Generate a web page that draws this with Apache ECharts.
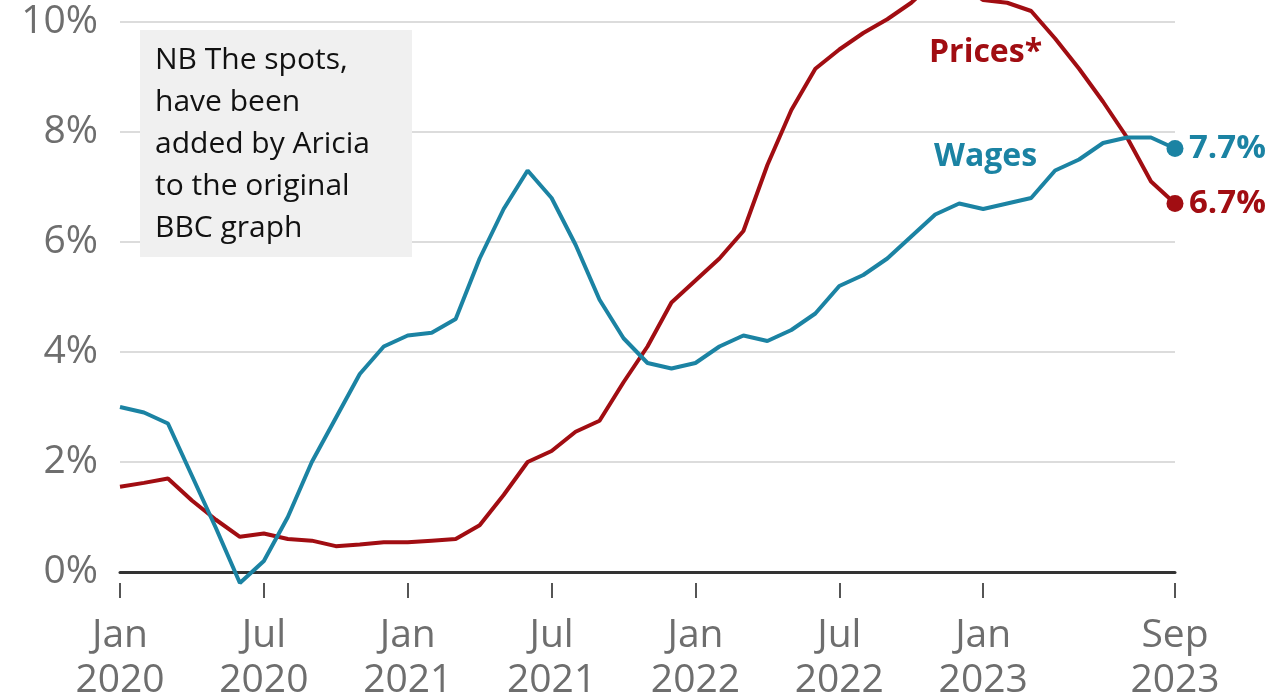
<!DOCTYPE html>
<html>
<head>
<meta charset="utf-8">
<script src="https://cdn.jsdelivr.net/npm/echarts@6/dist/echarts.min.js"></script>
<style>
  html, body { margin: 0; padding: 0; background: #fff; }
  #chart { width: 1275px; height: 700px; }
</style>
</head>
<body>
<div id="chart"></div>
<script>
// months, Jan 2020 .. Sep 2023
var months = [
  'Jan 2020', 'Feb 2020', 'Mar 2020', 'Apr 2020', 'May 2020', 'Jun 2020',
  'Jul 2020', 'Aug 2020', 'Sep 2020', 'Oct 2020', 'Nov 2020', 'Dec 2020',
  'Jan 2021', 'Feb 2021', 'Mar 2021', 'Apr 2021', 'May 2021', 'Jun 2021',
  'Jul 2021', 'Aug 2021', 'Sep 2021', 'Oct 2021', 'Nov 2021', 'Dec 2021',
  'Jan 2022', 'Feb 2022', 'Mar 2022', 'Apr 2022', 'May 2022', 'Jun 2022',
  'Jul 2022', 'Aug 2022', 'Sep 2022', 'Oct 2022', 'Nov 2022', 'Dec 2022',
  'Jan 2023', 'Feb 2023', 'Mar 2023', 'Apr 2023', 'May 2023', 'Jun 2023',
  'Jul 2023', 'Aug 2023', 'Sep 2023'
];
// months that get a tick and a label
var tickMonths = ['Jan 2020', 'Jul 2020', 'Jan 2021', 'Jul 2021', 'Jan 2022', 'Jul 2022', 'Jan 2023', 'Sep 2023'];

var wages = [
  3.0, 2.9, 2.7, 1.75, 0.8, -0.2,
  0.2, 1.0, 2.0, 2.8, 3.6, 4.1,
  4.3, 4.35, 4.6, 5.7, 6.6, 7.3,
  6.8, 5.95, 4.95, 4.25, 3.8, 3.7,
  3.8, 4.1, 4.3, 4.2, 4.4, 4.7,
  5.2, 5.4, 5.7, 6.1, 6.5, 6.7,
  6.6, 6.7, 6.8, 7.3, 7.5, 7.8,
  7.9, 7.9, 7.7
];
var prices = [
  1.55, 1.62, 1.7, 1.3, 0.95, 0.64,
  0.7, 0.6, 0.57, 0.47, 0.5, 0.54,
  0.54, 0.57, 0.6, 0.85, 1.4, 2.0,
  2.2, 2.55, 2.75, 3.45, 4.1, 4.9,
  5.3, 5.7, 6.2, 7.4, 8.4, 9.15,
  9.5, 9.8, 10.05, 10.35, 10.75, 10.7,
  10.4, 10.35, 10.2, 9.7, 9.15, 8.55,
  7.9, 7.1, 6.7
];
var yTicks = [0, 2, 4, 6, 8, 10];

var RED = '#a10d12';
var TEAL = '#1b83a3';
var GREY = '#6e6e6e';
var FONT = '"Open Sans", "Noto Sans", sans-serif';

function withEndDot(arr) {
  return arr.map(function (v, i) {
    if (i === arr.length - 1) {
      return { value: v, symbol: 'circle', symbolSize: 17 };
    }
    return v;
  });
}

function isTick(index) {
  return tickMonths.indexOf(months[index]) >= 0;
}

function endLabel(color) {
  return {
    show: true,
    distance: 14,
    color: color,
    fontFamily: FONT,
    fontWeight: 'bold',
    fontSize: 33,
    formatter: function (p) { return p.value + '%'; }
  };
}

var option = {
  animation: false,
  backgroundColor: '#fff',
  textStyle: { fontFamily: FONT },
  grid: {
    left: 120,
    right: 100,
    top: -88,
    bottom: 128,
    outerBoundsMode: 'none'
  },
  xAxis: [{
    type: 'category',
    data: months,
    boundaryGap: false,
    axisLine: { show: true, lineStyle: { color: '#333', width: 3 } },
    axisTick: { show: false },
    axisLabel: { show: false },
    splitLine: { show: false }
  }, {
    type: 'category',
    data: months,
    boundaryGap: false,
    offset: 11,
    position: 'bottom',
    axisLine: { show: false },
    axisTick: {
      show: true,
      length: 15,
      interval: function (i) { return isTick(i); },
      lineStyle: { color: '#555', width: 2 }
    },
    axisLabel: {
      show: true,
      interval: function (i) { return isTick(i); },
      margin: 30,
      color: GREY,
      fontFamily: FONT,
      fontSize: 39,
      lineHeight: 45,
      formatter: function (v) { return v.replace(' ', '\n'); }
    },
    splitLine: { show: false }
  }],
  yAxis: {
    type: 'value',
    min: 0,
    max: 12,
    interval: 2,
    axisLine: { show: false },
    axisTick: { show: false },
    axisLabel: {
      margin: 22,
      color: GREY,
      fontFamily: FONT,
      fontSize: 39,
      padding: [5, 0, 0, 0],
      formatter: function (v) { return yTicks.indexOf(v) >= 0 ? v + '%' : ''; }
    },
    splitLine: { show: true, lineStyle: { color: '#dcdcdc', width: 2 } }
  },
  series: [{
    name: 'Prices*',
    type: 'line',
    data: withEndDot(prices),
    symbol: 'none',
    clip: false,
    lineStyle: { color: RED, width: 4 },
    itemStyle: { color: RED },
    endLabel: endLabel(RED),
    z: 3
  }, {
    name: 'Wages',
    type: 'line',
    data: withEndDot(wages),
    symbol: 'none',
    clip: false,
    lineStyle: { color: TEAL, width: 4 },
    itemStyle: { color: TEAL },
    endLabel: endLabel(TEAL),
    z: 4
  }],
  graphic: [{
    type: 'rect',
    z: 100,
    shape: { x: 140, y: 30, width: 272, height: 227 },
    style: { fill: '#f0f0f0' }
  }, {
    type: 'text',
    z: 101,
    x: 155,
    y: 39,
    style: {
      text: 'NB The spots,\nhave been\nadded by Aricia\nto the original\nBBC graph',
      font: '30px "Open Sans", sans-serif',
      lineHeight: 42,
      fill: '#111',
      verticalAlign: 'top'
    }
  }, {
    type: 'text',
    z: 101,
    x: 929,
    y: 53,
    style: {
      text: 'Prices*',
      font: 'bold 32px "Open Sans", sans-serif',
      fill: RED,
      verticalAlign: 'middle'
    }
  }, {
    type: 'text',
    z: 101,
    x: 934,
    y: 157,
    style: {
      text: 'Wages',
      font: 'bold 32px "Open Sans", sans-serif',
      fill: TEAL,
      verticalAlign: 'middle'
    }
  }]
};

var myChart = echarts.init(document.getElementById('chart'));
myChart.setOption(option);
</script>
</body>
</html>
